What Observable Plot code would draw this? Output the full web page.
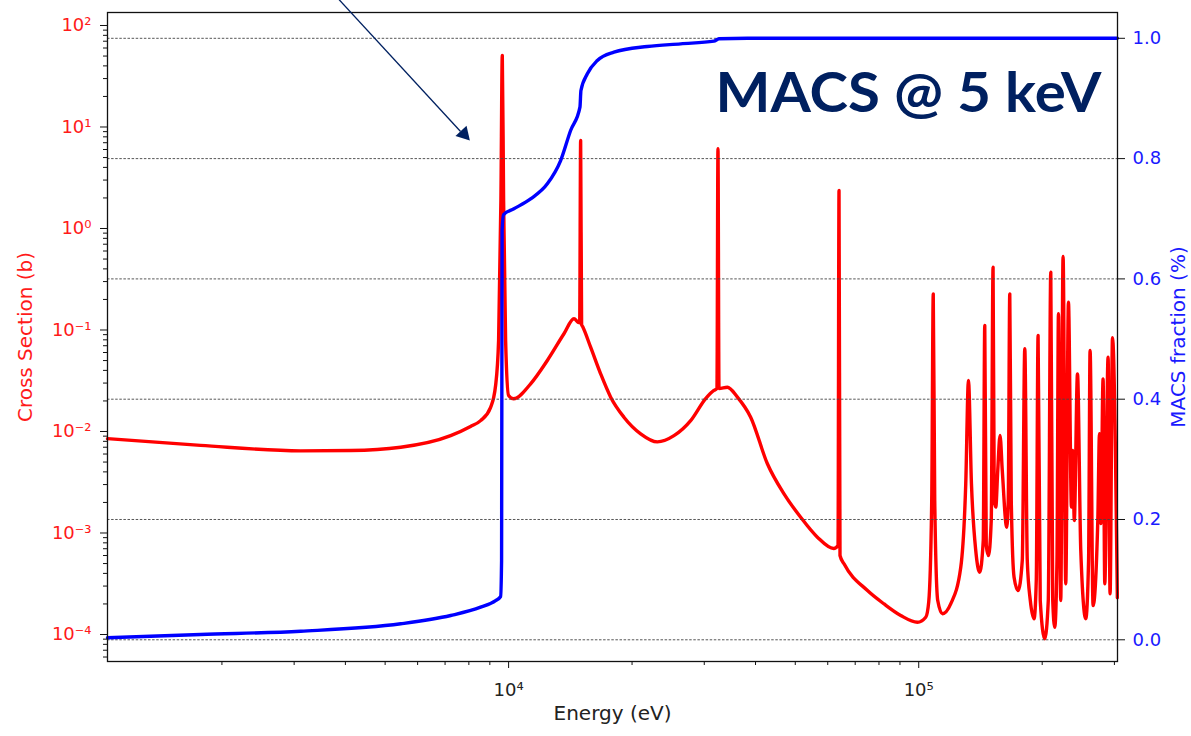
<!DOCTYPE html>
<html>
<head>
<meta charset="utf-8">
<script src="https://cdn.jsdelivr.net/npm/d3@7"></script>
<script src="https://cdn.jsdelivr.net/npm/@observablehq/plot@0.6"></script>
<style>
  html, body { margin: 0; padding: 0; background: #fff; }
  #chart svg { display: block; }
</style>
</head>
<body>
<div id="chart"></div>
<script>
// ---- Cross section (red, left log axis) ----
const redEnergy = [
  1052, 1774, 3112, 4121, 5458, 7223, 8075, 8545, 9040, 9296, 9454, 9577, 9652, 9723, 9833,
  10000, 10285, 11315, 12429, 13645, 14434, 14791, 14903, 14985, 15066, 15153, 15849, 16765,
  17738, 19107, 20989, 23048, 25305, 27792, 30232, 31671, 32212, 32397, 32583, 34155, 36130,
  38924, 42758, 46939, 51535, 56609, 62040, 63566, 63921, 64275, 65740, 74989, 82310, 90371,
  99270, 104010, 105780, 107570, 108490, 109400, 111260, 114250, 119670, 126620, 130210,
  132200, 134450, 137720, 140800, 143650, 144880, 146100, 147910, 150250, 151790, 152810,
  154120, 155840, 157870, 159850, 163900, 165300, 166720, 168130, 170790, 174690, 178850,
  181380, 183940, 187100, 191080, 193470, 195440, 197830, 202910, 206950, 209880, 212200,
  214610, 217300, 219120, 221950, 224880, 228280, 231770, 235700, 237440, 239480, 243840,
  248380, 255440, 259490, 261700, 266140, 273290, 275870, 277910, 281530, 284230, 289520,
  292810, 296780, 305000
];
const redSigma = [
  0.0085, 0.0073, 0.00645, 0.0065, 0.0070, 0.0091, 0.0112, 0.0128, 0.0173, 0.0284, 0.079, 1.89, 50.6, 1.89, 0.079,
  0.0226, 0.0210, 0.0295, 0.0501, 0.0918, 0.129, 0.119, 0.118, 7.36, 0.113, 0.108, 0.0677, 0.0370,
  0.0218, 0.01384, 0.00949, 0.0079, 0.0091, 0.0128, 0.0211, 0.0254, 0.0265, 6.10, 0.0265, 0.0273, 0.0218,
  0.01384, 0.00481, 0.00243, 0.00143, 0.00091, 0.000703, 0.000753, 2.37, 0.0006, 0.000497, 0.000271, 0.000200, 0.000154,
  0.000132, 0.000148, 0.00021, 0.00209, 0.227, 0.00209, 0.000216, 0.000160, 0.000200, 0.00046, 0.00305,
  0.0318, 0.00305, 0.000673, 0.000411, 0.000843, 0.1107, 0.000753, 0.0006, 0.00133, 0.416, 0.00209,
  0.0018, 0.00413, 0.00914, 0.00413, 0.00114, 0.00209, 0.227, 0.00209, 0.000367, 0.000271, 0.000536,
  0.0653, 0.000536, 0.000216, 0.000143, 0.00034, 0.0883, 0.000216, 0.0000908, 0.000216, 0.371, 0.000216,
  0.000118, 0.000536, 0.1444, 0.000216, 0.530, 0.000316, 0.188, 0.0018, 0.0065, 0.00133, 0.037,
  0.000673, 0.000143, 0.000536, 0.0628, 0.000193, 0.00133, 0.00949, 0.00124, 0.033, 0.000316, 0.054,
  0.000252, 0.0838, 0.00023
];

// ---- MACS fraction (blue, right linear axis) ----
const blueEnergy = [
  1052, 1774, 3112, 5458, 7223, 8545, 9296, 9561, 9614, 9642, 9723, 10302, 11315, 12429,
  13393, 14164, 14927, 15010, 15559, 16457, 18066, 21796, 26275, 31671, 32583, 38220, 305000
];
const blueFraction = [
  0.0033, 0.0088, 0.0143, 0.0266, 0.0404, 0.0542, 0.0653, 0.072, 0.132, 0.681, 0.707, 0.7166, 0.733, 0.758,
  0.7967, 0.8467, 0.8855, 0.9132, 0.941, 0.9631, 0.9769, 0.9864, 0.9908, 0.9952, 0.9992, 1.0, 1.0
];

// ---- ticks ----
const xMajorTicks = [1e4, 1e5];
const xTickLabels = ["10\u2074", "10\u2075"];
const xMinorTicks = [2e3, 3e3, 4e3, 5e3, 6e3, 7e3, 8e3, 9e3, 2e4, 3e4, 4e4, 5e4, 6e4, 7e4, 8e4, 9e4, 2e5, 3e5];
const yMajorTicks = [1e-4, 1e-3, 1e-2, 1e-1, 1, 10, 100];
const yTickLabels = ["10\u207B\u2074", "10\u207B\u00B3", "10\u207B\u00B2", "10\u207B\u00B9", "10\u2070", "10\u00B9", "10\u00B2"];
const fracTicks = [0, 0.2, 0.4, 0.6, 0.8, 1.0];
const fracTickLabels = ["0.0", "0.2", "0.4", "0.6", "0.8", "1.0"];

// annotation arrow (energy, cross section)
const arrowStart = {E: 3838, sigma: 184.5};
const arrowEnd = {E: 7636, sigma: 9.03};
const arrowHead = {E: 7783, sigma: 8.50};

// ---- scale domains ----
const xDomain = [1052, 305250];
const yDomain = [Math.pow(10, -4.266), Math.pow(10, 2.128)];
const fracDomain = [-0.0361, 1.0429];

const fracToLog = d3.scaleLinear().domain(fracDomain)
  .range([Math.log10(yDomain[0]), Math.log10(yDomain[1])]);
const toY = f => Math.pow(10, fracToLog(f));

const yMinorTicks = [];
for (let e = -5; e <= 2; e++) for (let m = 2; m <= 9; m++) {
  const v = m * Math.pow(10, e);
  if (v >= yDomain[0] && v <= yDomain[1]) yMinorTicks.push(v);
}

const red = redEnergy.map((E, i) => ({E, sigma: redSigma[i]}));
const blue = blueEnergy.map((E, i) => ({E, y: toY(blueFraction[i])}));
const fracTickPos = fracTicks.map(toY);
const nearestIndex = (arr, d) => {
  let best = 0, bd = Infinity;
  arr.forEach((v, i) => { const dd = Math.abs(Math.log10(v) - Math.log10(d)); if (dd < bd) { bd = dd; best = i; } });
  return best;
};

const navy = "#002060";

const chart = Plot.plot({
  width: 1191,
  height: 736,
  marginLeft: 107,
  marginRight: 74,
  marginTop: 12,
  marginBottom: 75,
  style: {fontFamily: "DejaVu Sans", fontSize: "18px", background: "white", overflow: "visible"},
  x: {type: "log", domain: xDomain},
  y: {type: "log", domain: yDomain},
  marks: [
    Plot.line(red, {x: "E", y: "sigma", stroke: "#ff0000", strokeWidth: 3.4, curve: "monotone-x"}),
    Plot.ruleY(fracTickPos, {stroke: "#444", strokeWidth: 0.9, strokeDasharray: "2.5,1.6"}),
    Plot.line(blue, {x: "E", y: "y", stroke: "#0000ff", strokeWidth: 3.4, curve: "monotone-x"}),
    Plot.frame({stroke: "#111", strokeWidth: 1.3}),
    // x axis
    Plot.axisX(xMajorTicks, {anchor: "bottom", tickSize: 7, tickPadding: 15, label: null,
      tickFormat: d => xTickLabels[nearestIndex(xMajorTicks, d)], fill: "#222", stroke: "#111", fontSize: 18}),
    Plot.axisX(xMinorTicks, {anchor: "bottom", tickSize: 4, label: null, tickFormat: () => "", stroke: "#111"}),
    // left axis
    Plot.axisY(yMajorTicks, {anchor: "left", tickSize: 7, tickPadding: 9, label: null,
      tickFormat: d => yTickLabels[nearestIndex(yMajorTicks, d)], fill: "#ff1a1a", stroke: "#111", fontSize: 18}),
    Plot.axisY(yMinorTicks, {anchor: "left", tickSize: 4, label: null, tickFormat: () => "", stroke: "#111"}),
    // right axis (ticks + labels)
    Plot.axisY(fracTickPos, {anchor: "right", tickSize: 7, label: null, tickFormat: () => "", stroke: "#111"}),
    Plot.text(fracTicks, {y: d => toY(d), text: (d, i) => fracTickLabels[i], frameAnchor: "right",
      textAnchor: "start", dx: 15, fill: "#1a1aff", fontSize: 18}),
    // axis titles
    Plot.text(["Cross Section (b)"], {text: d => d, frameAnchor: "left", textAnchor: "middle", dx: -81.5, rotate: -90,
      fill: "#ff1a1a", fontSize: 20}),
    Plot.text(["MACS fraction (%)"], {text: d => d, frameAnchor: "right", textAnchor: "middle", dx: 61.5, rotate: -90,
      fill: "#1a1aff", fontSize: 20}),
    Plot.text(["Energy (eV)"], {text: d => d, frameAnchor: "bottom", textAnchor: "middle", dy: 58, fill: "#222", fontSize: 20}),
    // annotation
    Plot.text(["MACS @ 5 keV"], {text: d => d, frameAnchor: "top-right", textAnchor: "end", lineAnchor: "bottom",
      dx: -16, dy: 99.7, fontSize: 56, fontWeight: "bold", fontFamily: "Lato", fill: navy}),
    Plot.link([0], {x1: () => arrowStart.E, y1: () => arrowStart.sigma, x2: () => arrowEnd.E, y2: () => arrowEnd.sigma,
      stroke: navy, strokeWidth: 1.3}),
    Plot.dot([arrowHead], {x: "E", y: "sigma", symbol: "triangle", r: 5.6, fill: navy, stroke: "none", rotate: 137.2})
  ]
});

document.getElementById("chart").appendChild(chart);

// fit annotation width
chart.querySelectorAll("text").forEach(t => {
  if (t.textContent === "MACS @ 5 keV") {
    t.setAttribute("textLength", "386");
    t.setAttribute("lengthAdjust", "spacingAndGlyphs");
  }
});
</script>
</body>
</html>
